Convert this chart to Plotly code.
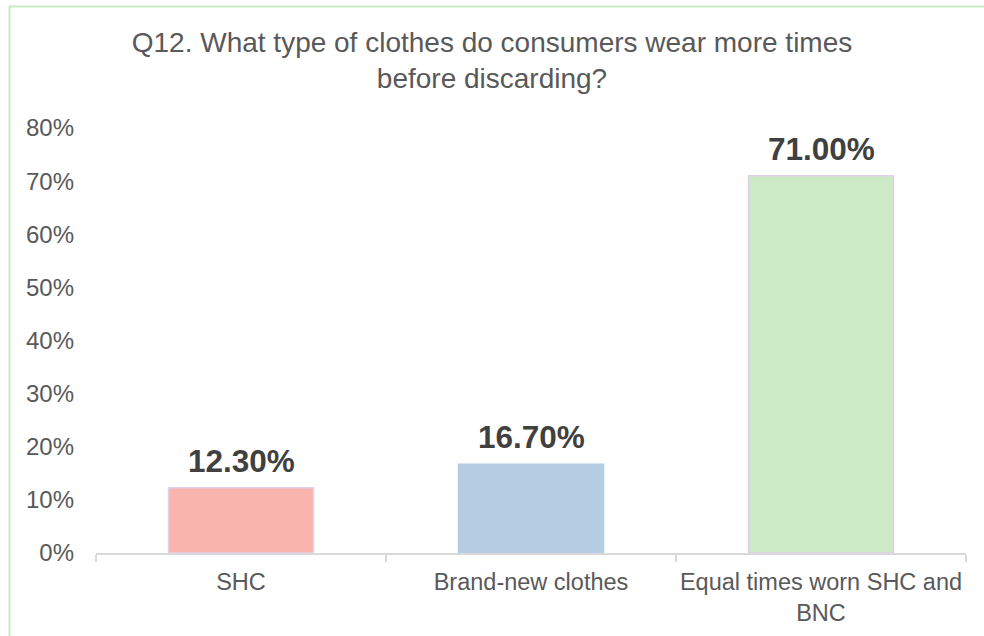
import plotly.graph_objects as go

# Survey answers for Q12
categories = ["SHC", "Brand-new clothes", "Equal times worn SHC and<br>BNC"]
shares = [12.30, 16.70, 71.00]
bar_colors = ["#f9b4ae", "#b4cde3", "#cdeac6"]
edge_colors = ["#e2d0ea", "#b4cde3", "#e2d0ea"]
y_ticks = [0, 10, 20, 30, 40, 50, 60, 70, 80]
y_labels = [f"{v}%" for v in y_ticks]

TEXT = "#595959"
FONT = "Liberation Sans, Arial, sans-serif"

fig = go.Figure()
fig.add_trace(go.Bar(
    x=categories,
    y=shares,
    marker=dict(color=bar_colors, line=dict(color=edge_colors, width=1.5)),
    hoverinfo="skip",
))

# bold value labels above each bar
for cat, val in zip(categories, shares):
    fig.add_annotation(
        x=cat, y=val, text=f"<b>{val:.2f}%</b>",
        showarrow=False, yanchor="bottom", yshift=7,
        font=dict(family=FONT, size=31.5, color="#404040"),
    )

W, H = 984, 636
L, R, T, B = 96, 18, 128, 83
PW, PH = W - L - R, H - T - B

# light green outer frame of the chart (left and top edges visible)
fig.add_shape(
    type="rect", xref="paper", yref="paper",
    x0=(9.5 - L) / PW, x1=(W + 10 - L) / PW,
    y0=(H - B - (H + 10)) / PH, y1=(H - B - 6.5) / PH,
    line=dict(color="#c8ebc2", width=2), fillcolor="rgba(0,0,0,0)",
    layer="below",
)

fig.update_layout(
    width=W, height=H,
    margin=dict(l=L, r=R, t=T, b=B, pad=0, autoexpand=False),
    paper_bgcolor="white", plot_bgcolor="white",
    showlegend=False,
    bargap=0.5,
    font=dict(family=FONT, color=TEXT),
    title=dict(
        text="Q12. What type of clothes do consumers wear more times<br>before discarding?",
        x=0.5, xanchor="center", xref="container",
        y=1 - 52 / H, yanchor="top", yref="container",
        font=dict(family=FONT, size=28, color=TEXT),
    ),
    xaxis=dict(
        showline=True, linecolor="#d9d9d9", linewidth=1.5,
        ticks="outside", tickson="boundaries", ticklen=7,
        tickcolor="#d9d9d9", tickwidth=1.5,
        tickfont=dict(family=FONT, size=23.5, color=TEXT),
        tickangle=0, automargin=False,
        ticklabelstandoff=7,
        showgrid=False, zeroline=False,
    ),
    yaxis=dict(
        range=[0, 80], tickmode="array", tickvals=y_ticks, ticktext=y_labels,
        showgrid=False, zeroline=False, showline=False, automargin=False,
        tickfont=dict(family=FONT, size=24, color=TEXT),
        ticklabelstandoff=21,
    ),
)

fig.write_html("out.html")
